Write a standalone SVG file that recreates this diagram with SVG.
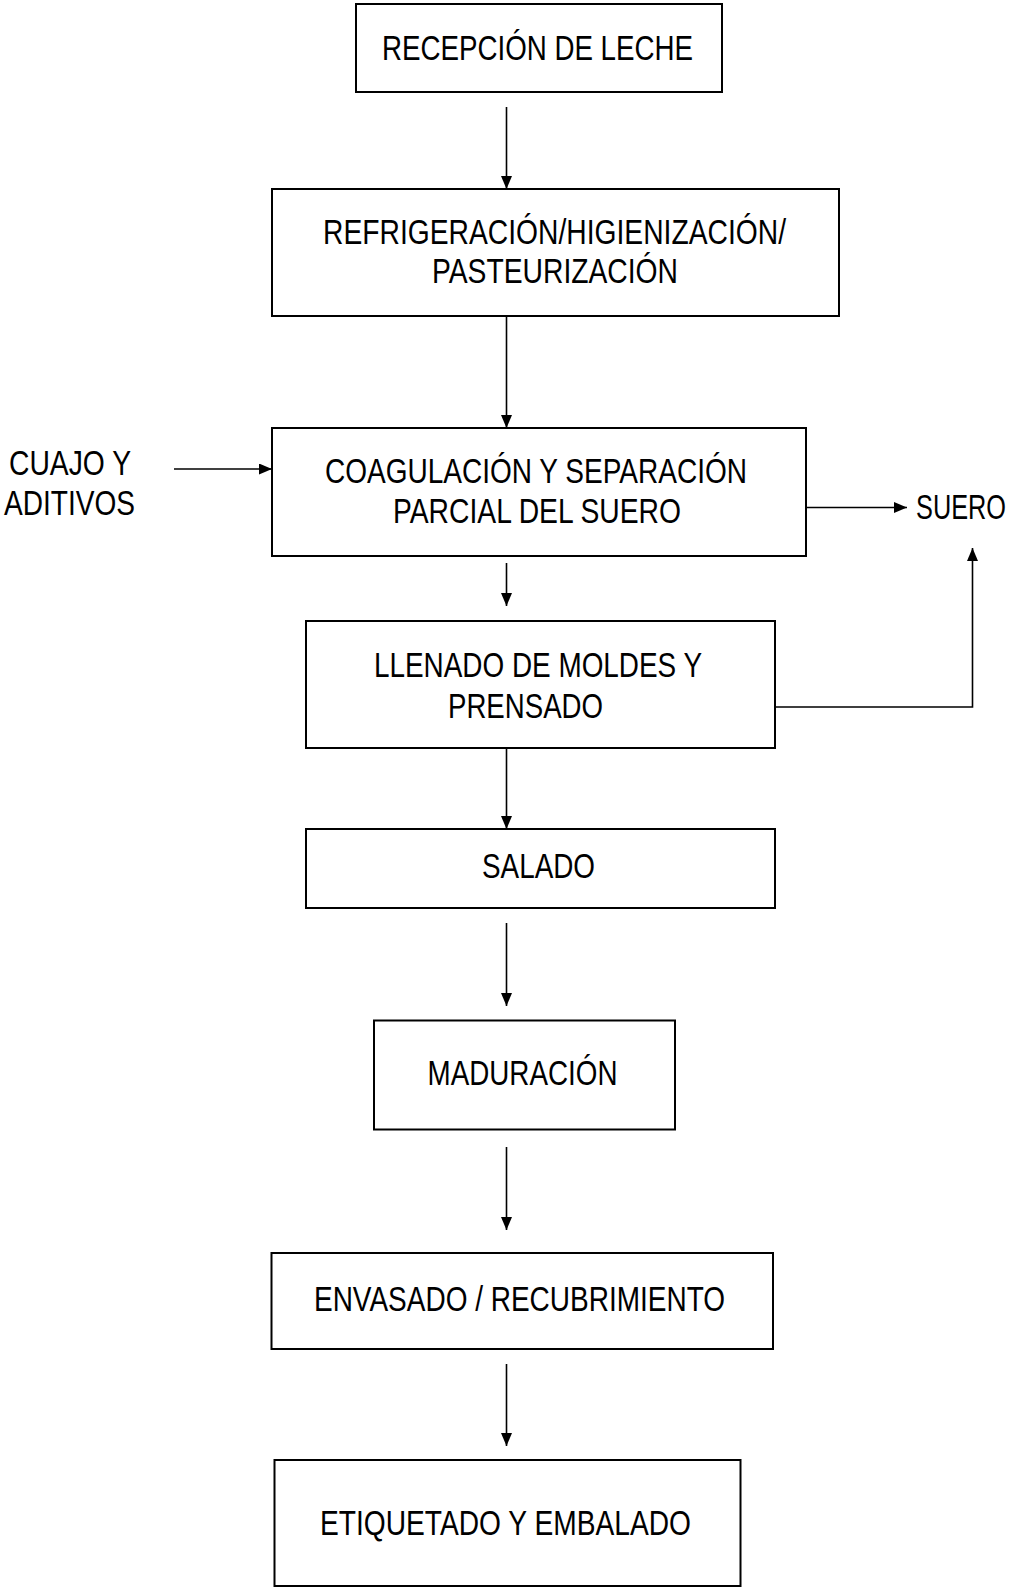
<svg xmlns="http://www.w3.org/2000/svg" width="1017" height="1589" viewBox="0 0 1017 1589">
<style>
.box{fill:#fff;stroke:#000;stroke-width:2}
.t{font-family:"Liberation Sans Narrow","Arial Narrow","Liberation Sans",sans-serif;font-size:35px;fill:#000}
.c{fill:none;stroke:#000;stroke-width:1.6}
</style>
<defs>
<marker id="ah" viewBox="0 0 13 11" refX="13" refY="5.5" markerWidth="13" markerHeight="11" markerUnits="userSpaceOnUse" orient="auto">
<path d="M0,0 L13,5.5 L0,11 Z" fill="#000"/>
</marker>
</defs>
<rect width="1017" height="1589" fill="#fff"/>
<g id="connectors">
<line class="c" x1="506.5" y1="107" x2="506.5" y2="189" marker-end="url(#ah)"/>
<line class="c" x1="506.5" y1="308" x2="506.5" y2="428" marker-end="url(#ah)"/>
<line class="c" x1="506.5" y1="563" x2="506.5" y2="606" marker-end="url(#ah)"/>
<line class="c" x1="506.5" y1="748" x2="506.5" y2="829" marker-end="url(#ah)"/>
<line class="c" x1="506.5" y1="923" x2="506.5" y2="1006" marker-end="url(#ah)"/>
<line class="c" x1="506.5" y1="1147" x2="506.5" y2="1230" marker-end="url(#ah)"/>
<line class="c" x1="506.5" y1="1364" x2="506.5" y2="1446" marker-end="url(#ah)"/>
<line class="c" x1="174" y1="469" x2="272" y2="469" marker-end="url(#ah)"/>
<line class="c" x1="806" y1="507.5" x2="907" y2="507.5" marker-end="url(#ah)"/>
<polyline class="c" points="775,707 972.5,707 972.5,548" marker-end="url(#ah)"/>
</g>
<g id="n1"><rect class="box" x="356" y="4" width="366" height="88"/>
<text class="t" x="382" y="60" textLength="311" lengthAdjust="spacingAndGlyphs">RECEPCIÓN DE LECHE</text></g>
<g id="n2"><rect class="box" x="272" y="189" width="567" height="127"/>
<text class="t" x="323" y="243.5" textLength="463" lengthAdjust="spacingAndGlyphs">REFRIGERACIÓN/HIGIENIZACIÓN/</text>
<text class="t" x="432" y="282.5" textLength="246" lengthAdjust="spacingAndGlyphs">PASTEURIZACIÓN</text></g>
<g id="n3"><rect class="box" x="272" y="428" width="534" height="128"/>
<text class="t" x="325" y="483" textLength="422" lengthAdjust="spacingAndGlyphs">COAGULACIÓN Y SEPARACIÓN</text>
<text class="t" x="393" y="523" textLength="288" lengthAdjust="spacingAndGlyphs">PARCIAL DEL SUERO</text></g>
<g id="in1">
<text class="t" x="9" y="475" textLength="122" lengthAdjust="spacingAndGlyphs">CUAJO Y</text>
<text class="t" x="4" y="515" textLength="131" lengthAdjust="spacingAndGlyphs">ADITIVOS</text></g>
<g id="out1"><text class="t" x="916" y="519" textLength="90" lengthAdjust="spacingAndGlyphs">SUERO</text></g>
<g id="n4"><rect class="box" x="306" y="621" width="469" height="127"/>
<text class="t" x="374" y="677" textLength="328" lengthAdjust="spacingAndGlyphs">LLENADO DE MOLDES Y</text>
<text class="t" x="448" y="718" textLength="155" lengthAdjust="spacingAndGlyphs">PRENSADO</text></g>
<g id="n5"><rect class="box" x="306" y="829" width="469" height="79"/>
<text class="t" x="482" y="877.5" textLength="113" lengthAdjust="spacingAndGlyphs">SALADO</text></g>
<g id="n6"><rect class="box" x="374" y="1020.5" width="301" height="109"/>
<text class="t" x="427.5" y="1084.5" textLength="190" lengthAdjust="spacingAndGlyphs">MADURACIÓN</text></g>
<g id="n7"><rect class="box" x="271.5" y="1253" width="501.5" height="96"/>
<text class="t" x="314" y="1310.5" textLength="411" lengthAdjust="spacingAndGlyphs">ENVASADO / RECUBRIMIENTO</text></g>
<g id="n8"><rect class="box" x="274.5" y="1460" width="466" height="126"/>
<text class="t" x="320" y="1535" textLength="371" lengthAdjust="spacingAndGlyphs">ETIQUETADO Y EMBALADO</text></g>
</svg>
